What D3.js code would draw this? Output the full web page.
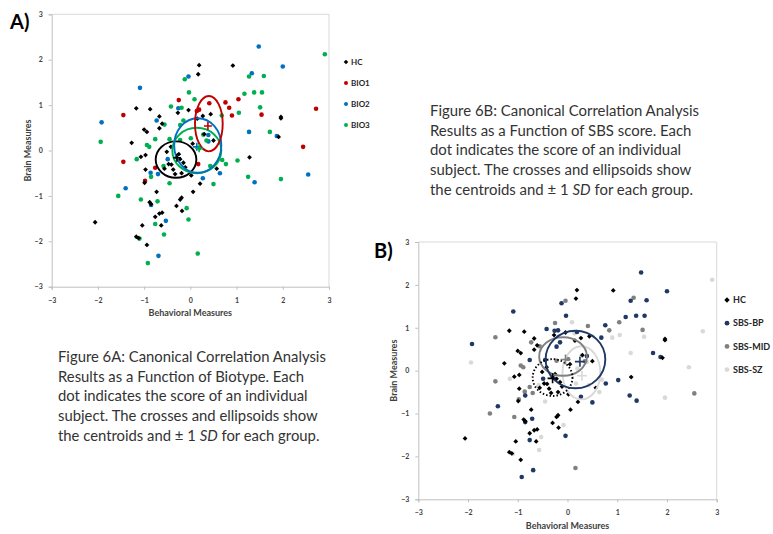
<!DOCTYPE html>
<html>
<head>
<meta charset="utf-8">
<script src="https://cdn.jsdelivr.net/npm/d3@7/dist/d3.min.js"></script>
<style>
  body { margin: 0; background: #fff; }
  svg { display: block; font-family: Lato, "Open Sans", sans-serif; }
</style>
</head>
<body>
<div id="chart"></div>
<script>
const ticks = [-3, -2, -1, 0, 1, 2, 3];

// healthy controls, shared by both panels: [behavioral, brain]
const hcPoints = [
  [-2.06,-1.58],[-1.17,0.93],[-0.87,0.91],[-0.67,0.75],[-0.61,0.59],[-0.67,0.49],
  [-1.00,0.46],[-0.94,0.41],[-1.27,0.17],[-1.07,-0.14],[-0.97,-0.10],[-0.97,-0.42],
  [-0.99,-0.71],[-0.73,-0.91],[-0.88,-1.14],[-0.85,-1.18],[-0.76,-1.46],[-0.67,-1.39],
  [-0.61,-1.37],[-0.63,-1.65],[-1.04,-1.65],[-1.17,-1.90],[-1.12,-1.93],[-0.94,-2.08],
  [-0.30,-1.22],[-0.22,-1.08],[-0.19,-1.04],[-0.18,-1.33],[0.06,-0.91],[0.21,-0.73],
  [0.19,1.88],[0.17,1.68],[0.92,1.87],[-0.27,0.83],[-0.04,0.89],[0.27,0.76],
  [0.44,0.80],[0.15,0.70],[0.30,0.36],[0.50,0.22],[0.57,-0.40],[1.96,0.74],
  [1.96,0.71],[1.91,0.30],[1.28,-0.15],[-0.51,-0.03],[-0.42,0.08],[-0.47,-0.30],
  [-0.41,-0.31],[-0.37,-0.42],[-0.30,-0.15],[-0.22,-0.19],[-0.19,-0.50],[-0.11,-0.37],
  [-0.25,-0.08],[-0.33,-0.52],[-0.15,-0.27],[-0.56,-0.40],[0.05,0.15],[0.02,-0.55]
];

// patients: [behavioral, brain, biotype, SBS group]
const patientPoints = [
  [-1.92,0.62,"BIO2","SBS-BP"],[-1.09,1.38,"BIO2","SBS-BP"],[-1.40,-0.83,"BIO2","SBS-BP"],
  [-0.73,0.66,"BIO2","SBS-MID"],[-0.86,-0.49,"BIO2","SBS-MID"],[-0.70,-0.52,"BIO2","SBS-MID"],
  [-0.85,-1.20,"BIO2","SBS-BP"],[-0.53,-1.55,"BIO2","SBS-SZ"],[-0.69,-2.32,"BIO2","SBS-BP"],
  [-0.49,-0.19,"BIO2","SBS-BP"],[-0.04,1.63,"BIO2","SBS-MID"],[-0.26,0.93,"BIO2","SBS-BP"],
  [0.39,0.34,"BIO2","SBS-BP"],[0.39,0.20,"BIO2","SBS-SZ"],[0.27,-0.61,"BIO2","SBS-BP"],
  [0.64,-0.50,"BIO2","SBS-SZ"],[1.48,2.29,"BIO2","SBS-BP"],[1.33,1.70,"BIO2","SBS-MID"],
  [2.00,1.85,"BIO2","SBS-BP"],[1.27,0.41,"BIO2","SBS-SZ"],[1.87,0.32,"BIO2","SBS-BP"],
  [1.39,-0.70,"BIO2","SBS-BP"],[2.55,-0.53,"BIO2","SBS-MID"],
  [-1.45,0.78,"BIO1","SBS-MID"],[-1.45,-0.25,"BIO1","SBS-MID"],[-0.25,1.11,"BIO1","SBS-MID"],
  [0.14,0.87,"BIO1","SBS-SZ"],[0.19,0.90,"BIO1","SBS-BP"],[0.41,1.04,"BIO1","SBS-MID"],
  [0.76,1.06,"BIO1","SBS-BP"],[0.84,0.94,"BIO1","SBS-MID"],[1.04,1.13,"BIO1","SBS-MID"],
  [0.90,0.77,"BIO1","SBS-SZ"],[1.54,0.79,"BIO1","SBS-SZ"],[2.72,0.92,"BIO1","SBS-SZ"],
  [2.44,0.08,"BIO1","SBS-SZ"],[-0.76,-0.38,"BIO1","SBS-MID"],[-0.98,-0.67,"BIO1","SBS-MID"],
  [0.17,-0.30,"BIO1","SBS-SZ"],
  [-1.94,0.19,"BIO3","SBS-SZ"],[-1.56,-1.00,"BIO3","SBS-MID"],[-1.07,-1.08,"BIO3","SBS-MID"],
  [-1.10,-1.94,"BIO3","SBS-SZ"],[-0.92,-2.48,"BIO3","SBS-BP"],[-0.76,-1.62,"BIO3","SBS-BP"],
  [-0.57,-1.85,"BIO3","SBS-SZ"],[-0.71,-1.12,"BIO3","SBS-BP"],[-1.16,-0.19,"BIO3","SBS-SZ"],
  [-0.94,0.12,"BIO3","SBS-MID"],[-0.89,0.08,"BIO3","SBS-MID"],[-0.85,-0.58,"BIO3","SBS-BP"],
  [-0.76,0.25,"BIO3","SBS-BP"],[-0.56,0.57,"BIO3","SBS-MID"],[-0.42,0.97,"BIO3","SBS-BP"],
  [-0.58,-0.34,"BIO3","SBS-SZ"],[-0.45,-0.72,"BIO3","SBS-SZ"],[-0.45,0.25,"BIO3","SBS-BP"],
  [-0.19,0.94,"BIO3","SBS-BP"],[-0.15,0.66,"BIO3","SBS-BP"],[-0.22,0.56,"BIO3","SBS-BP"],
  [-0.12,1.57,"BIO3","SBS-BP"],[-0.03,1.28,"BIO3","SBS-BP"],[0.09,1.13,"BIO3","SBS-SZ"],
  [0.01,0.27,"BIO3","SBS-MID"],[-0.08,-1.27,"BIO3","SBS-SZ"],[-0.04,-1.52,"BIO3","SBS-BP"],
  [0.16,-2.27,"BIO3","SBS-MID"],[0.50,-0.74,"BIO3","SBS-BP"],[0.43,-0.34,"BIO3","SBS-SZ"],
  [0.69,-0.21,"BIO3","SBS-SZ"],[0.77,-0.30,"BIO3","SBS-BP"],[1.02,-0.22,"BIO3","SBS-BP"],
  [1.25,-0.58,"BIO3","SBS-BP"],[1.96,-0.63,"BIO3","SBS-SZ"],[0.68,0.77,"BIO3","SBS-BP"],
  [1.05,0.83,"BIO3","SBS-SZ"],[1.17,1.25,"BIO3","SBS-BP"],[1.27,1.63,"BIO3","SBS-BP"],
  [1.38,1.28,"BIO3","SBS-BP"],[1.55,1.28,"BIO3","SBS-BP"],[1.59,1.64,"BIO3","SBS-BP"],
  [1.51,0.95,"BIO3","SBS-MID"],[1.72,0.41,"BIO3","SBS-BP"],[2.91,2.12,"BIO3","SBS-SZ"],
  [0.35,0.22,"BIO3","SBS-MID"],[0.28,0.35,"BIO3","SBS-SZ"],[0.20,0.05,"BIO3","SBS-SZ"],
  [-0.22,0.23,"BIO3","SBS-MID"]
];

const groupsA = ["HC", "BIO1", "BIO2", "BIO3"];
const colorsA = ["#000000", "#c00000", "#0070c0", "#00b050"];
const groupsB = ["HC", "SBS-BP", "SBS-MID", "SBS-SZ"];
const colorsB = ["#000000", "#1f3864", "#808080", "#d9d9d9"];

// centroids and +/- 1 SD: [group, cx, cy, sdx, sdy]
const ellipsesA = [
  ["HC", -0.31, -0.20, 0.44, 0.40],
  ["BIO3", 0.14, 0.00, 0.53, 0.50],
  ["BIO2", 0.16, 0.11, 0.51, 0.60],
  ["BIO1", 0.40, 0.59, 0.30, 0.61]
];
const centroidsA = [["HC", -0.29, -0.16], ["BIO1", 0.38, 0.54], ["BIO2", 0.14, 0.08], ["BIO3", 0.19, 0.05]];
const ellipsesB = [
  ["SBS-SZ", 0.28, -0.05, 0.38, 0.62],
  ["SBS-MID", -0.09, 0.33, 0.48, 0.45],
  ["HC", -0.30, -0.16, 0.40, 0.43],
  ["SBS-BP", 0.16, 0.26, 0.60, 0.67]
];
const centroidsB = [["SBS-SZ", 0.29, -0.12], ["SBS-MID", -0.04, 0.26], ["HC", -0.30, -0.18], ["SBS-BP", 0.25, 0.21]];

const captionA = [
  "Figure 6A: Canonical Correlation Analysis",
  "Results as a Function of Biotype. Each",
  "dot indicates the score of an individual",
  "subject. The crosses and ellipsoids show",
  "the centroids and \u00b1 1 |SD| for each group."
];
const captionB = [
  "Figure 6B: Canonical Correlation Analysis",
  "Results as a Function of SBS score. Each",
  "dot indicates the score of an individual",
  "subject. The crosses and ellipsoids show",
  "the centroids and \u00b1 1 |SD| for each group."
];

const svg = d3.select("#chart").append("svg")
  .attr("width", 773)
  .attr("height", 534);

// small square diamond used for the HC markers
const diamond = s => `M0,${-s}L${s},0L0,${s}L${-s},0Z`;

function drawPanel(p) {
  const x = d3.scaleLinear().domain([-3, 3]).range([p.left, p.right]);
  const y = d3.scaleLinear().domain([-3, 3]).range([p.bottom, p.top]);
  const color = d3.scaleOrdinal().domain(p.groups).range(p.colors);
  const g = svg.append("g");

  // plot area frame (top and right)
  g.append("path")
    .attr("d", `M${p.left},${p.top}H${p.right}V${p.bottom}`)
    .attr("fill", "none")
    .attr("stroke", "#d9d9d9");

  const yAxis = g.append("g")
    .attr("transform", `translate(${p.left},0)`)
    .call(d3.axisLeft(y).tickValues(ticks).tickSize(3).tickPadding(6).tickFormat(d3.format("d")));
  const xAxis = g.append("g")
    .attr("transform", `translate(0,${p.bottom})`)
    .call(d3.axisBottom(x).tickValues(ticks).tickSize(3).tickPadding(8).tickFormat(d3.format("d")));
  [xAxis, yAxis].forEach(a => {
    a.select(".domain").attr("stroke", "#bfbfbf");
    a.selectAll(".tick line").attr("stroke", "#bfbfbf");
    a.selectAll(".tick text")
      .attr("fill", "#404040")
      .style("font-size", "7px")
      .style("font-weight", "bold")
      .style("font-family", "Lato, sans-serif");
  });

  g.append("text")
    .attr("x", (p.left + p.right) / 2)
    .attr("y", p.xLabelY)
    .attr("text-anchor", "middle")
    .attr("fill", "#404040")
    .style("font-size", "9px")
    .style("font-weight", "bold")
    .text("Behavioral Measures");
  g.append("text")
    .attr("transform", `translate(${p.yLabelX},${(p.top + p.bottom) / 2}) rotate(-90)`)
    .attr("text-anchor", "middle")
    .attr("fill", "#404040")
    .style("font-size", "9px")
    .style("font-weight", "bold")
    .text("Brain Measures");

  g.append("text")
    .attr("x", p.tagX)
    .attr("y", p.tagY)
    .style("font-size", "20px")
    .style("font-weight", "bold")
    .attr("fill", "#000")
    .text(p.tag);

  // patients first, controls on top
  g.append("g").selectAll("circle")
    .data(patientPoints)
    .join("circle")
      .attr("cx", d => x(d[0]))
      .attr("cy", d => y(d[1]))
      .attr("r", 2.3)
      .attr("fill", d => color(d[p.groupIndex]));

  g.append("g").selectAll("path")
    .data(hcPoints)
    .join("path")
      .attr("transform", d => `translate(${x(d[0])},${y(d[1])})`)
      .attr("d", diamond(2.4))
      .attr("fill", "#000");

  g.append("g").selectAll("ellipse")
    .data(p.ellipses)
    .join("ellipse")
      .attr("cx", d => x(d[1]))
      .attr("cy", d => y(d[2]))
      .attr("rx", d => x(d[3]) - x(0))
      .attr("ry", d => y(0) - y(d[4]))
      .attr("fill", "none")
      .attr("stroke", d => color(d[0]))
      .attr("stroke-width", 1.9)
      .attr("stroke-dasharray", d => (p.dottedHC && d[0] === "HC") ? "1.5,2" : null);

  const crosses = g.append("g").selectAll("g")
    .data(p.centroids)
    .join("g")
      .attr("transform", d => `translate(${x(d[1])},${y(d[2])})`);
  crosses.append("path")
    .attr("d", `M${-p.cross},0H${p.cross}M0,${-p.cross}V${p.cross}`)
    .attr("stroke", d => color(d[0]))
    .attr("stroke-width", 1.6);

  // legend
  const leg = g.append("g").selectAll("g")
    .data(p.groups)
    .join("g")
      .attr("transform", (d, i) => `translate(${p.legX},${p.legY + i * p.legStep})`);
  leg.each(function(d) {
    const el = d3.select(this);
    if (d === "HC") {
      el.append("path").attr("d", diamond(p.legR + 0.3)).attr("fill", "#000");
    } else {
      el.append("circle").attr("r", p.legR).attr("fill", color(d));
    }
  });
  leg.append("text")
    .attr("x", p.legText)
    .attr("dy", "0.35em")
    .attr("fill", "#262626")
    .style("font-size", p.legFont)
    .style("font-weight", "bold")
    .text(d => d);
}

function drawCaption(lines, x0, y0, width) {
  const g = svg.append("g");
  const t = g.selectAll("text")
    .data(lines)
    .join("text")
      .attr("x", 0)
      .attr("y", (d, i) => i * 19.7)
      .attr("fill", "#333")
      .style("font-size", "16px");
  t.each(function(line) {
    const el = d3.select(this);
    line.split("|").forEach((part, k) => {
      el.append("tspan").style("font-style", k === 1 ? "italic" : null).text(part);
    });
  });
  const w = t.nodes()[0].getComputedTextLength();
  g.attr("transform", `translate(${x0},${y0}) scale(${width / w},1)`);
}

drawPanel({
  left: 51.7, right: 329, top: 14.3, bottom: 286.7,
  groups: groupsA, colors: colorsA, groupIndex: 2,
  ellipses: ellipsesA, centroids: centroidsA, dottedHC: false, cross: 4,
  xLabelY: 316, yLabelX: 31, tag: "A)", tagX: 10, tagY: 29,
  legX: 346, legY: 62, legStep: 21, legText: 5, legR: 2, legFont: "8px"
});
drawPanel({
  left: 418.3, right: 716.7, top: 242, bottom: 499.3,
  groups: groupsB, colors: colorsB, groupIndex: 3,
  ellipses: ellipsesB, centroids: centroidsB, dottedHC: true, cross: 5,
  xLabelY: 529, yLabelX: 397, tag: "B)", tagX: 374, tagY: 258,
  legX: 727, legY: 300, legStep: 23.2, legText: 6, legR: 2.4, legFont: "9px"
});

drawCaption(captionA, 58, 362, 268);
drawCaption(captionB, 430, 116, 269);
</script>
</body>
</html>
